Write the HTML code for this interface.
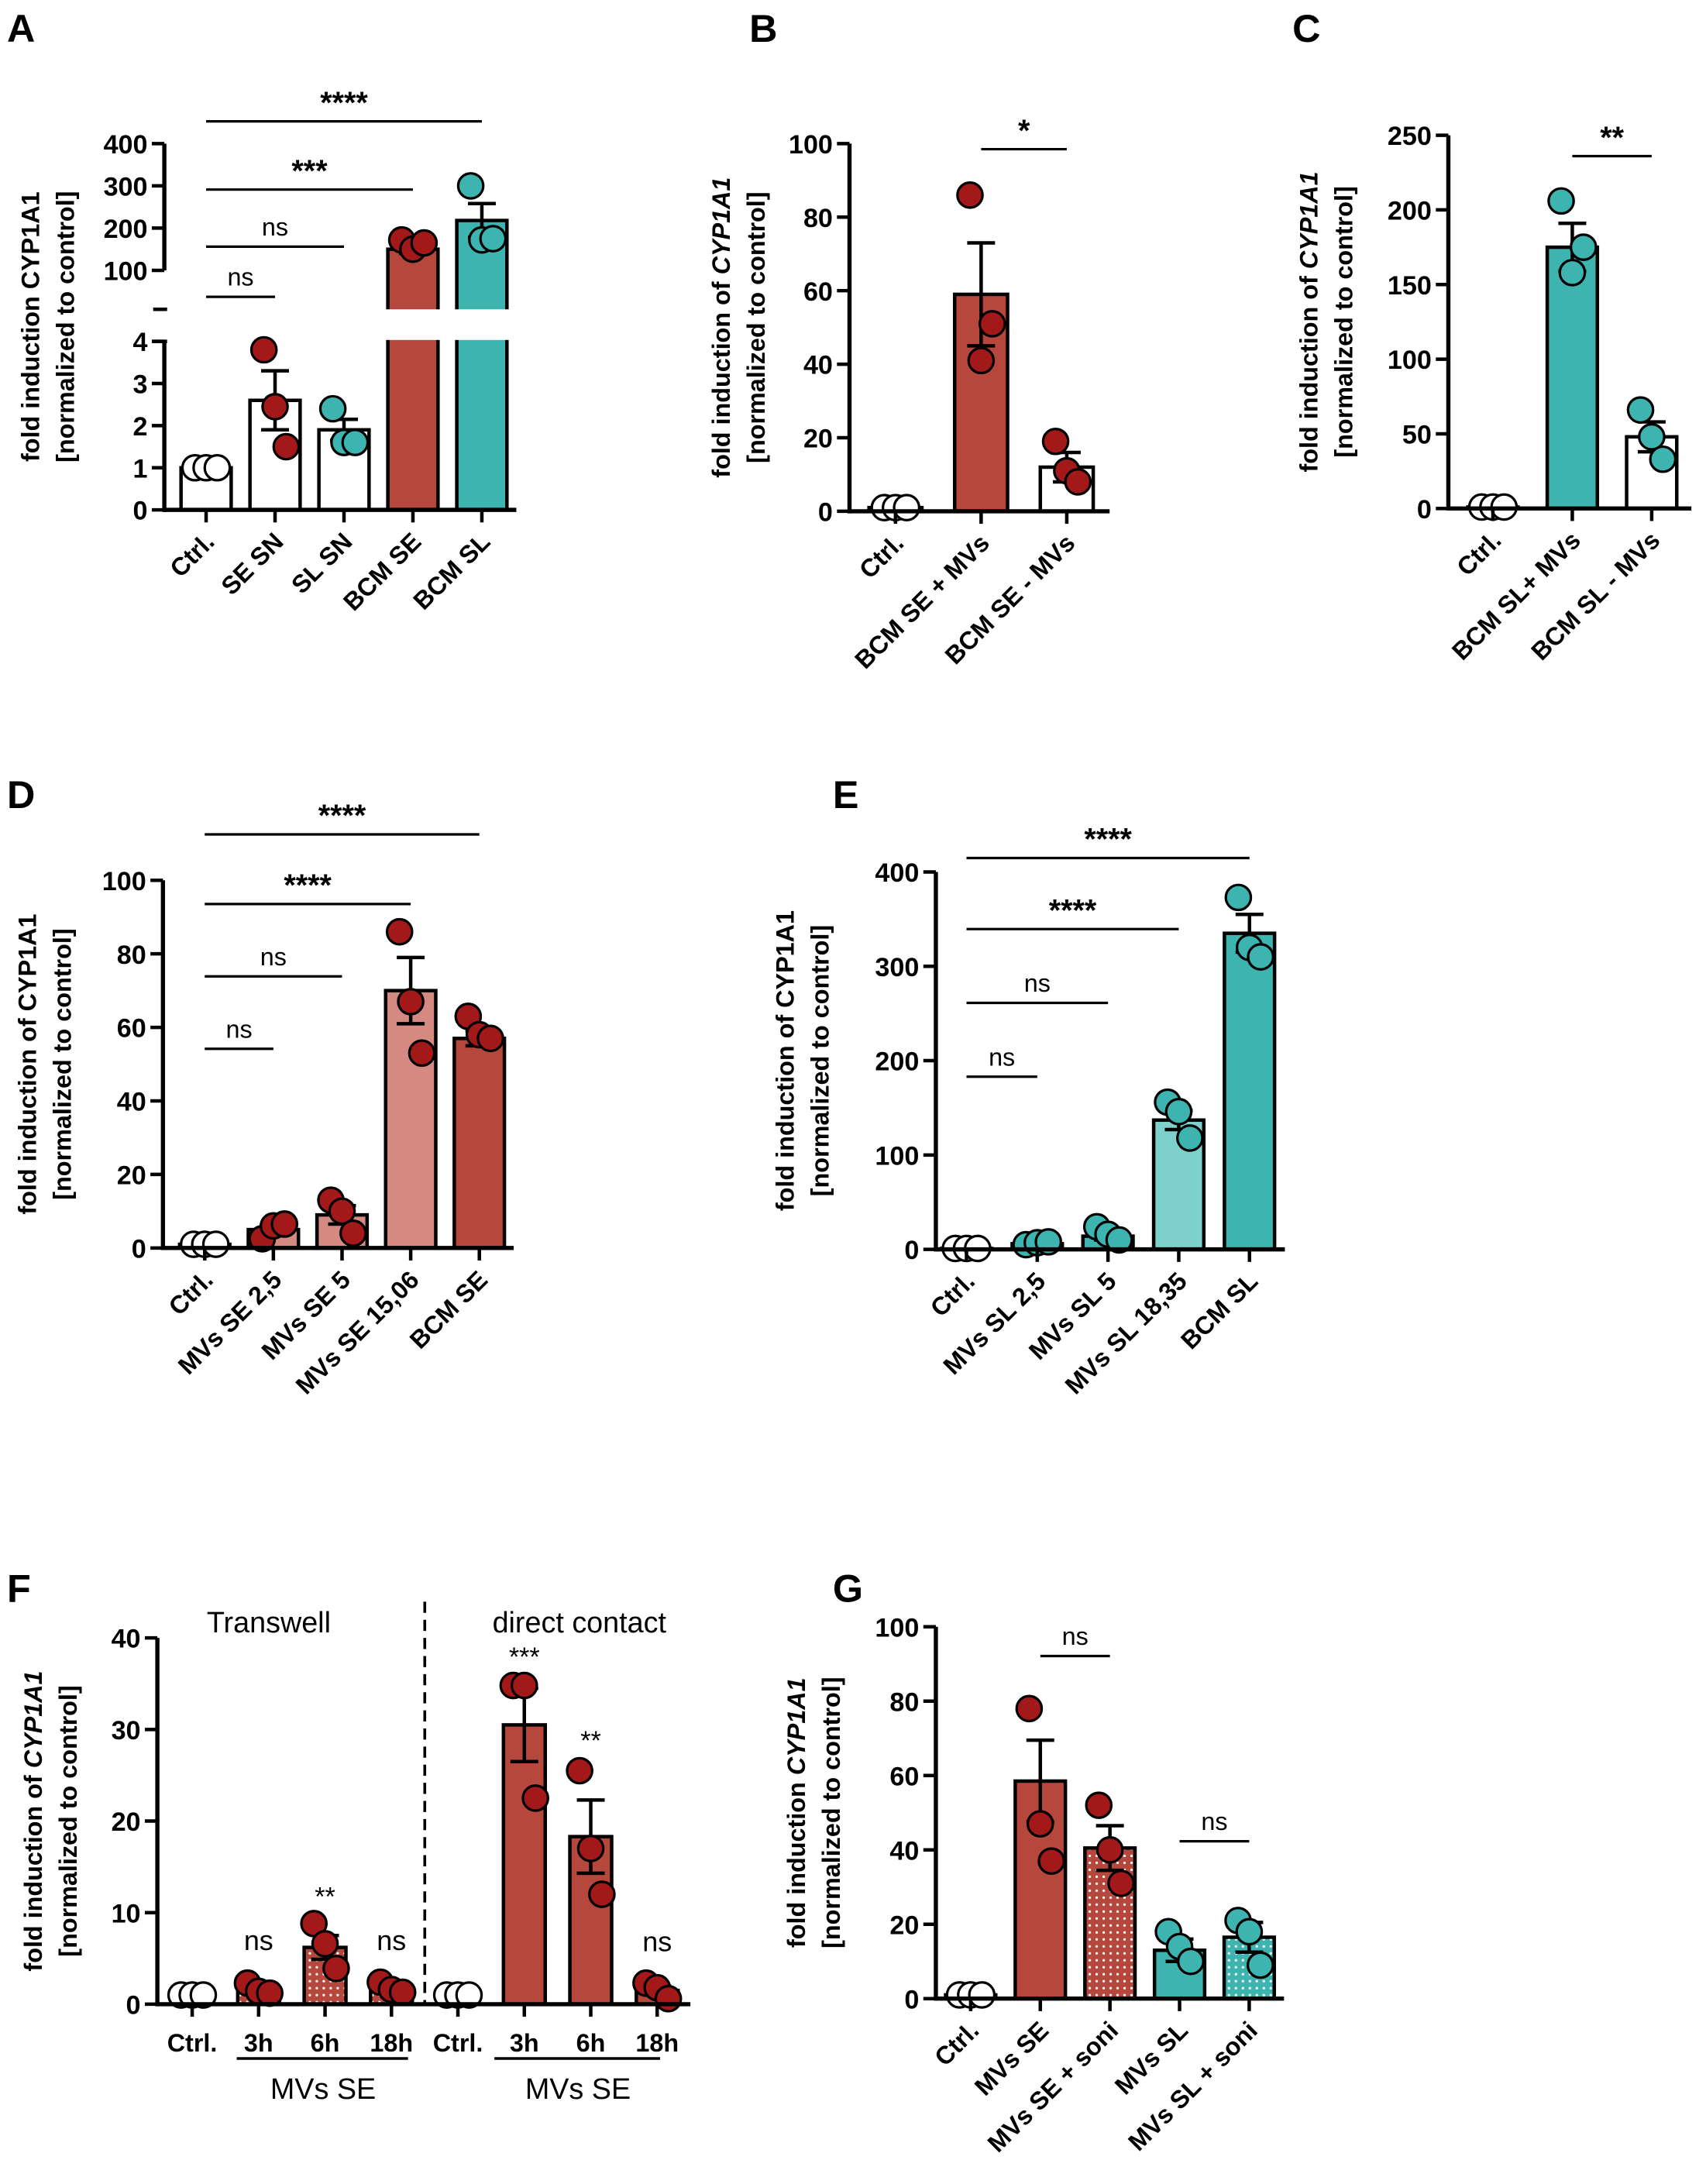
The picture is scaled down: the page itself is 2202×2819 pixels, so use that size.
<!DOCTYPE html>
<html><head><meta charset="utf-8"><style>
html,body{margin:0;padding:0;background:#fff}
svg{display:block}
text{font-family:"Liberation Sans Narrow","Liberation Sans",sans-serif}
.tick{font-weight:bold;font-size:19px}
.yt{font-family:"Liberation Sans",sans-serif;font-weight:bold;font-size:18px}
.xl{font-family:"Liberation Sans",sans-serif;font-weight:bold;font-size:18px}
.pl{font-family:"Liberation Sans",sans-serif;font-weight:bold;font-size:28px}
.sig{font-size:18px}
.sigb{font-weight:bold;font-size:22px}
</style></head><body>
<svg id="fig" width="2202" height="2819" viewBox="0 0 1225 1568" xmlns="http://www.w3.org/2000/svg">
<defs>
<pattern id="dotR" width="5" height="5" patternUnits="userSpaceOnUse"><rect width="5" height="5" fill="#B5473D"/><circle cx="2.5" cy="2.5" r="0.9" fill="#fff"/></pattern>
<pattern id="dotT" width="5" height="5" patternUnits="userSpaceOnUse"><rect width="5" height="5" fill="#3DB4B0"/><circle cx="2.5" cy="2.5" r="0.9" fill="#fff"/></pattern>
</defs>
</svg>
<script>
// ---- data ----
const A_cats=["Ctrl.","SE SN","SL SN","BCM SE","BCM SL"];
const A_means=[1,2.6,1.9,150,218];
const A_sems=[0.05,0.7,0.25,10,40];
const A_pts=[[1,1,1],[3.8,2.45,1.5],[2.4,1.6,1.6],[172,150,165],[300,172,175]];
const A_ticksLow=[0,1,2,3,4];
const A_ticksHigh=[100,200,300,400];

const B_cats=["Ctrl.","BCM SE + MVs","BCM SE - MVs"];
const B_means=[1,59,12];
const B_sems=[0.2,14,4];
const B_pts=[[1,1,1],[86,41,51],[19,11,8]];
const B_ticks=[0,20,40,60,80,100];

const C_cats=["Ctrl.","BCM SL+ MVs","BCM SL - MVs"];
const C_means=[1,175,48];
const C_sems=[0.2,16,10];
const C_pts=[[1,1,1],[206,158,175],[66,48,33]];
const C_ticks=[0,50,100,150,200,250];

const D_cats=["Ctrl.","MVs SE 2,5","MVs SE 5","MVs SE 15,06","BCM SE"];
const D_means=[1,5,9,70,57];
const D_sems=[0.1,1,2.5,9,2];
const D_pts=[[1,1,1],[2.5,6,6.5],[13,10,4],[86,67,53],[63,58,57]];
const D_ticks=[0,20,40,60,80,100];

const E_cats=["Ctrl.","MVs SL 2,5","MVs SL 5","MVs SL 18,35","BCM SL"];
const E_means=[1,6,14,137,335];
const E_sems=[0.2,1,4,10,20];
const E_pts=[[1,1,1],[5,7,8],[24,16,10],[156,146,118],[373,320,310]];
const E_ticks=[0,100,200,300,400];

const F_cats=["Ctrl.","3h","6h","18h","Ctrl.","3h","6h","18h"];
const F_means=[1,1.5,6.2,1.7,1,30.5,18.3,1.5];
const F_sems=[0.05,0.3,1.3,0.3,0.05,4,4,0.5];
const F_pts=[[1,1,1],[2.3,1.4,1.2],[8.8,6.6,3.9],[2.4,1.6,1.3],[1,1,1],[34.8,34.8,22.5],[25.5,17,12],[2.3,1.8,0.6]];
const F_ticks=[0,10,20,30,40];

const G_cats=["Ctrl.","MVs SE","MVs SE + soni","MVs SL","MVs SL + soni"];
const G_means=[1,58.5,40.5,13,16.5];
const G_sems=[0.1,11,6,3,4];
const G_pts=[[1,1,1],[78,47,37],[52,40,31],[18,14,10],[21,18,9]];
const G_ticks=[0,20,40,60,80,100];

// ---- helpers ----
const NS="http://www.w3.org/2000/svg";
const svg=document.getElementById('fig');
function el(tag,attrs,parent){const e=document.createElementNS(NS,tag);for(const k in attrs)e.setAttribute(k,attrs[k]);(parent||svg).appendChild(e);return e;}
function txt(s,attrs,parent){const e=el('text',attrs,parent);e.textContent=s;return e;}
const RED="#B5473D",DRED="#A3191A",TEAL="#3DB4B0",LPINK="#D48A80",LTEAL="#7ED0CC";

function panel(o){
  const g=el('g',{});
  
  
  const y=o.y;
  const xc=i=>o.x0+i*o.step;
  const n=o.cats.length;
  o.cats.forEach((c,i)=>{
    const b=el('rect',{x:xc(i)-o.bw/2,y:y(o.means[i]),width:o.bw,height:y(0)-y(o.means[i]),fill:o.fills[i],stroke:'#000','stroke-width':2.5},g);
    
    
  });
  if(o.afterBars)o.afterBars(g,xc);
  o.cats.forEach((c,i)=>{
    const m=o.means[i],s=o.sems[i];
    const e=el('path',{d:`M${xc(i)} ${y(m+s)}V${y(Math.max(m-s,0))}M${xc(i)-10} ${y(m+s)}H${xc(i)+10}M${xc(i)-10} ${y(m-s)}H${xc(i)+10}`,stroke:'#000','stroke-width':2.5,fill:'none'},g);
    
    
  });
  o.cats.forEach((c,i)=>{
    o.pts[i].forEach((v,j)=>{
      const p=el('circle',{cx:xc(i)+(j-1)*8,cy:y(v),r:9,fill:o.dots[i],stroke:'#000','stroke-width':1.8},g);
      
      
    });
  });
  const ax=o.ax, yb=y(0);
  const xa=el('path',{d:`M${ax} ${yb}H${xc(n-1)+o.step/2}`,stroke:'#000','stroke-width':3,fill:'none'},g);
  
  
  o.cats.forEach((c,i)=>{
    el('path',{d:`M${xc(i)} ${yb}v9`,stroke:'#000','stroke-width':2.5},g);
    const t=o.horiz?txt(c,{class:'xl','text-anchor':'middle',x:xc(i),y:yb+34},g)
      :txt(c,{class:'xl','text-anchor':'end',transform:`translate(${xc(i)+7},${yb+24}) rotate(-45)`},g);
    
    
  });
  if(!o.customY){
    const ya=el('path',{d:`M${ax} ${yb+1.5}V${y(o.ticks[o.ticks.length-1])}`,stroke:'#000','stroke-width':3,fill:'none'},g);
    
    
    o.ticks.forEach(t=>{
      el('path',{d:`M${ax} ${y(t)}h-9`,stroke:'#000','stroke-width':2.5},g);
      const l=txt(String(t),{class:'tick','text-anchor':'end',x:ax-12,y:y(t)+7},g);
      
      
    });
  } else o.customY(g);
  const mid=(y(0)+o.titleTop)/2;
  const t1=el('text',{class:'yt','text-anchor':'middle',transform:`translate(${o.tx},${mid}) rotate(-90)`},g);
  
  
  t1.innerHTML=o.t1;
  const t2=txt('[normalized to control]',{class:'yt','text-anchor':'middle',transform:`translate(${o.tx+25},${mid}) rotate(-90)`},g);
  
  
  (o.sigs||[]).forEach(s=>{
    const [i1,i2,yy,label]=s;
    el('path',{d:`M${xc(i1)} ${yy}H${xc(i2)}`,stroke:'#000','stroke-width':1.8},g);
    const big=label.indexOf('*')>=0;
    const st=txt(label,{class:big?'sigb':'sig','text-anchor':'middle',x:(xc(i1)+xc(i2))/2,y:yy-(big?6:8)},g);
    
    
  });
  const L=txt(o.letter,{class:'pl',x:o.lx,y:o.ly},g);
  
  
  return {g,xc,y};
}
const lin=(v0,p0,v1,p1)=>v=>p0+(v-v0)*(p1-p0)/(v1-v0);
const ITAL='<tspan font-style="italic">CYP1A1</tspan>';

// ---- A (broken axis) ----
const yLow=lin(0,366,4,245), yHigh=lin(100,194,400,103);
const yA=v=>v<=4?yLow(v):(v<100?yLow(4):yHigh(v));
panel({name:'panel-a',key:'a',letter:'A',lx:5,ly:30,cats:A_cats,means:A_means,sems:A_sems,pts:A_pts,
  fills:['#fff','#fff','#fff',RED,TEAL],dots:['#fff',DRED,TEAL,DRED,TEAL],
  x0:148,step:49.5,bw:36,ax:118,y:yA,titleTop:103,tx:28,t1:'fold induction CYP1A1',
  afterBars:(g,xc)=>{el('rect',{x:260,y:222,width:120,height:22,fill:'#fff'},g);},
  customY:(g)=>{
    el('path',{d:`M118 367.5V245M118 194V103`,stroke:'#000','stroke-width':3,fill:'none'},g);
    el('path',{d:`M110 222h10M110 245h10`,stroke:'#000','stroke-width':2.5},g);
    A_ticksLow.forEach(t=>{el('path',{d:`M118 ${yLow(t)}h-9`,stroke:'#000','stroke-width':2.5},g);
      txt(String(t),{class:'tick','text-anchor':'end',x:106,y:yLow(t)+7},g);});
    A_ticksHigh.forEach(t=>{el('path',{d:`M118 ${yHigh(t)}h-9`,stroke:'#000','stroke-width':2.5},g);
      txt(String(t),{class:'tick','text-anchor':'end',x:106,y:yHigh(t)+7},g);});
  },
  sigs:[[0,1,213,'ns'],[0,2,177,'ns'],[0,3,136,'***'],[0,4,87,'****']]});

// ---- B ----
panel({name:'panel-b',key:'b',letter:'B',lx:538,ly:30,cats:B_cats,means:B_means,sems:B_sems,pts:B_pts,
  fills:['#fff',RED,'#fff'],dots:['#fff',DRED,DRED],x0:643,step:61.5,bw:38,ax:610,
  y:lin(0,367,100,103),ticks:B_ticks,titleTop:103,tx:524,t1:'fold induction of '+ITAL,
  sigs:[[1,2,107,'*']]});

// ---- C ----
panel({name:'panel-c',key:'c',letter:'C',lx:928,ly:30,cats:C_cats,means:C_means,sems:C_sems,pts:C_pts,
  fills:['#fff',TEAL,'#fff'],dots:['#fff',TEAL,TEAL],x0:1072,step:57,bw:36,ax:1040,
  y:lin(0,365,250,97),ticks:C_ticks,titleTop:97,tx:946,t1:'fold induction of '+ITAL,
  sigs:[[1,2,112,'**']]});

// ---- D ----
panel({name:'panel-d',key:'d',letter:'D',lx:5,ly:580,cats:D_cats,means:D_means,sems:D_sems,pts:D_pts,
  fills:['#fff',LPINK,LPINK,LPINK,RED],dots:['#fff',DRED,DRED,DRED,DRED],x0:147,step:49.3,bw:36,ax:117,
  y:lin(0,896,100,632),ticks:D_ticks,titleTop:632,tx:26,t1:'fold induction of CYP1A1',
  sigs:[[0,1,753,'ns'],[0,2,701,'ns'],[0,3,649,'****'],[0,4,599,'****']]});

// ---- E ----
panel({name:'panel-e',key:'e',letter:'E',lx:598,ly:580,cats:E_cats,means:E_means,sems:E_sems,pts:E_pts,
  fills:['#fff',TEAL,TEAL,LTEAL,TEAL],dots:['#fff',TEAL,TEAL,TEAL,TEAL],x0:694,step:50.8,bw:36,ax:672,
  y:lin(0,897,400,626),ticks:E_ticks,titleTop:626,tx:570,t1:'fold induction of CYP1A1',
  sigs:[[0,1,773,'ns'],[0,2,720,'ns'],[0,3,667,'****'],[0,4,616,'****']]});

// ---- F ----
const pf=panel({name:'panel-f',key:'f',letter:'F',lx:5,ly:1150,cats:F_cats,means:F_means,sems:F_sems,pts:F_pts,
  fills:['#fff','url(#dotR)','url(#dotR)','url(#dotR)','#fff',RED,RED,RED],dots:['#fff',DRED,DRED,DRED,'#fff',DRED,DRED,DRED],
  x0:138,step:47.7,bw:30,ax:113,y:lin(0,1439,40,1176),ticks:F_ticks,titleTop:1176,tx:30,t1:'fold induction of '+ITAL,horiz:true});
(function(){const g=pf.g;
  el('path',{d:'M305 1150V1440',stroke:'#000','stroke-width':2,'stroke-dasharray':'8,5'},g);
  txt('Transwell',{'font-size':21,'text-anchor':'middle',x:193,y:1172},g);
  txt('direct contact',{'font-size':21,'text-anchor':'middle',x:416,y:1172},g);
  [['ns',1,1400],['**',2,1368],['ns',3,1400],['***',5,1196],['**',6,1256],['ns',7,1401]].forEach(a=>{
    const t=txt(a[0],{'font-size':a[0]=='ns'?20:19,'text-anchor':'middle',x:pf.xc(a[1]),y:a[2]},g);
    
    });
  el('path',{d:'M170 1478H293M355 1478H474',stroke:'#000','stroke-width':2},g);
  txt('MVs SE',{'font-size':21,'text-anchor':'middle',x:232,y:1507},g);
  txt('MVs SE',{'font-size':21,'text-anchor':'middle',x:415,y:1507},g);
})();

// ---- G ----
panel({name:'panel-g',key:'g',letter:'G',lx:598,ly:1150,cats:G_cats,means:G_means,sems:G_sems,pts:G_pts,
  fills:['#fff',RED,'url(#dotR)',TEAL,'url(#dotT)'],dots:['#fff',DRED,DRED,TEAL,TEAL],x0:697,step:50,bw:36,ax:672,
  y:lin(0,1435,100,1168),ticks:G_ticks,titleTop:1168,tx:578,t1:'fold induction '+ITAL,
  sigs:[[1,2,1189,'ns'],[3,4,1322,'ns']]});
</script>
</body></html>
